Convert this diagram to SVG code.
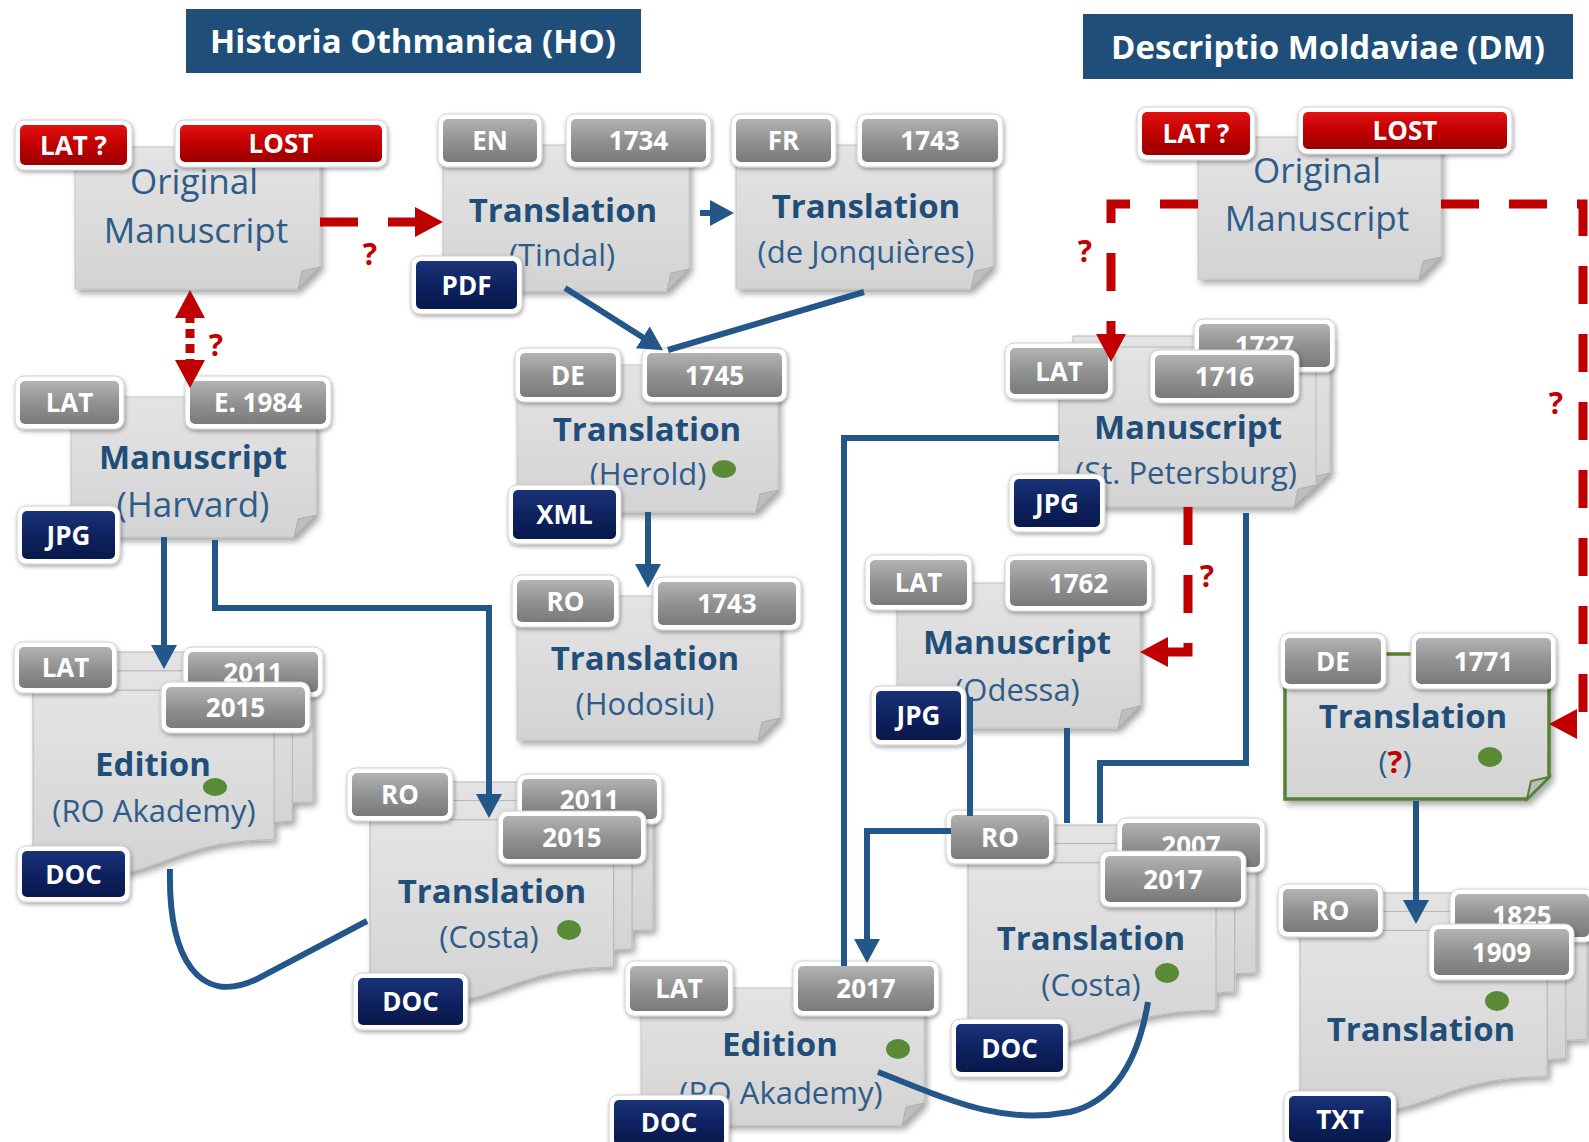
<svg xmlns="http://www.w3.org/2000/svg" width="1589" height="1142" viewBox="0 0 1589 1142">
<defs>
<linearGradient id="gGray" x1="0" y1="0" x2="0" y2="1"><stop offset="0" stop-color="#B3B3B3"/><stop offset="0.5" stop-color="#929292"/><stop offset="1" stop-color="#7A7A7A"/></linearGradient>
<linearGradient id="gRed" x1="0" y1="0" x2="0" y2="1"><stop offset="0" stop-color="#E31212"/><stop offset="0.5" stop-color="#C00000"/><stop offset="1" stop-color="#9C0000"/></linearGradient>
<linearGradient id="gNavy" x1="0" y1="0" x2="0" y2="1"><stop offset="0" stop-color="#1A3378"/><stop offset="0.5" stop-color="#0E2260"/><stop offset="1" stop-color="#08184A"/></linearGradient>
<linearGradient id="gBody" x1="0" y1="0" x2="0" y2="1"><stop offset="0" stop-color="#E4E4E4"/><stop offset="1" stop-color="#D3D3D3"/></linearGradient>
<filter id="bsh" x="-10%" y="-10%" width="125%" height="130%"><feDropShadow dx="3" dy="4" stdDeviation="3" flood-color="#000" flood-opacity="0.35"/></filter>
<filter id="tsh" x="-15%" y="-20%" width="135%" height="150%"><feDropShadow dx="1" dy="2" stdDeviation="2" flood-color="#000" flood-opacity="0.35"/></filter>
<marker id="ab" markerUnits="userSpaceOnUse" markerWidth="26" markerHeight="26" refX="18" refY="13" orient="auto"><path d="M0,0 L24,13 L0,26 Z" fill="#23578A"/></marker>
<marker id="ar" markerUnits="userSpaceOnUse" markerWidth="30" markerHeight="30" refX="19" refY="15" orient="auto-start-reverse"><path d="M0,0 L28,15 L0,30 Z" fill="#C00000"/></marker>
</defs>
<style>
.body{fill:url(#gBody);stroke:#C4C4C4;stroke-width:1;filter:url(#bsh)}
.page{fill:url(#gBody);stroke:#B8B8B8;stroke-width:1}
.flap{fill:#BDBDBD;stroke:#A8A8A8;stroke-width:0.8}
.halo{fill:#FFFFFF;stroke:#D0D0D0;stroke-width:1;filter:url(#tsh)}
.gray .fill{fill:url(#gGray)}
.red .fill{fill:url(#gRed)}
.navy .fill{fill:url(#gNavy)}
.tag text{font-family:"Open Sans",sans-serif;font-weight:bold;font-size:26px;fill:#FFFFFF;text-anchor:middle}
.tb{font-family:"Open Sans",sans-serif;font-weight:bold;font-size:33px;fill:#1F4E79;text-anchor:middle}
.tr{font-family:"Open Sans",sans-serif;font-size:31px;fill:#2E5C8A;text-anchor:middle}
.tl{font-family:"Open Sans",sans-serif;font-size:35px;fill:#2E5C8A;text-anchor:middle}
.dot{fill:#5A8A35}
.title rect{fill:#1F4E79}
.title text{font-family:"Open Sans",sans-serif;font-weight:bold;font-size:33px;fill:#FFFFFF;text-anchor:middle}
.q{font-family:"Open Sans",sans-serif;font-weight:bold;font-size:30px;fill:#C00000;text-anchor:middle}
.bl{fill:none;stroke:#23578A;stroke-width:6}
.rd{fill:none;stroke:#C00000;stroke-width:9;stroke-dasharray:38 30}
</style>
<rect width="1589" height="1142" fill="#FFFFFF"/>

<g id="title-ho" class="title"><rect x="186" y="9" width="455" height="64"/><text x="413" y="53">Historia Othmanica (HO)</text></g>
<g id="title-dm" class="title"><rect x="1083" y="14" width="490" height="65"/><text x="1328" y="59">Descriptio Moldaviae (DM)</text></g>

<g id="ho-original">
<path class="body" d="M75,147 H320 V267 L298,289 H75 Z"/><path class="flap" d="M298,289 L320,267 L302,271 Z"/>
<text class="tl" x="194" y="194">Original</text><text class="tl" x="196" y="243">Manuscript</text>
<g class="tag red"><rect class="halo" x="15" y="120" width="117" height="50" rx="9"/><rect class="fill" x="20" y="125" width="107" height="40" rx="5"/><text x="73.5" y="154.5">LAT ?</text></g>
<g class="tag red"><rect class="halo" x="175" y="120" width="212" height="47" rx="9"/><rect class="fill" x="180" y="125" width="202" height="37" rx="5"/><text x="281" y="153">LOST</text></g>
</g>

<g id="ho-tindal">
<path class="body" d="M443,145 H689 V269 L667,291 H443 Z"/><path class="flap" d="M667,291 L689,269 L671,273 Z"/>
<text class="tb" x="563" y="222">Translation</text><text class="tr" x="562" y="266">(Tindal)</text>
<g class="tag gray"><rect class="halo" x="438" y="114" width="104" height="53" rx="9"/><rect class="fill" x="443" y="119" width="94" height="43" rx="5"/><text x="490" y="150">EN</text></g>
<g class="tag gray"><rect class="halo" x="566" y="114" width="145" height="53" rx="9"/><rect class="fill" x="571" y="119" width="135" height="43" rx="5"/><text x="638.5" y="150">1734</text></g>
<g class="tag navy"><rect class="halo" x="411" y="256" width="111" height="58" rx="9"/><rect class="fill" x="416" y="261" width="101" height="48" rx="5"/><text x="466.5" y="294.5">PDF</text></g>
</g>

<g id="ho-jonquieres">
<path class="body" d="M736,145 H993 V267 L971,289 H736 Z"/><path class="flap" d="M971,289 L993,267 L975,271 Z"/>
<text class="tb" x="866" y="218">Translation</text><text class="tr" x="866" y="263">(de Jonquières)</text>
<g class="tag gray"><rect class="halo" x="731" y="114" width="105" height="53" rx="9"/><rect class="fill" x="736" y="119" width="95" height="43" rx="5"/><text x="783.5" y="150">FR</text></g>
<g class="tag gray"><rect class="halo" x="857" y="114" width="146" height="53" rx="9"/><rect class="fill" x="862" y="119" width="136" height="43" rx="5"/><text x="930" y="150">1743</text></g>
</g>

<g id="ho-harvard">
<path class="body" d="M71,397 H316 V515 L294,537 H71 Z"/><path class="flap" d="M294,537 L316,515 L298,519 Z"/>
<text class="tb" x="193" y="469">Manuscript</text><text class="tl" x="193" y="517">(Harvard)</text>
<g class="tag gray"><rect class="halo" x="15" y="376" width="109" height="53" rx="9"/><rect class="fill" x="20" y="381" width="99" height="43" rx="5"/><text x="69.5" y="412">LAT</text></g>
<g class="tag gray"><rect class="halo" x="185" y="376" width="146" height="53" rx="9"/><rect class="fill" x="190" y="381" width="136" height="43" rx="5"/><text x="258" y="412">E. 1984</text></g>
<g class="tag navy"><rect class="halo" x="17" y="506" width="103" height="58" rx="9"/><rect class="fill" x="22" y="511" width="93" height="48" rx="5"/><text x="68.5" y="544.5">JPG</text></g>
</g>

<g id="ho-herold">
<path class="body" d="M517,365 H778 V490 L756,512 H517 Z"/><path class="flap" d="M756,512 L778,490 L760,494 Z"/>
<text class="tb" x="647" y="441">Translation</text><text class="tr" x="648" y="485">(Herold)</text>
<ellipse class="dot" cx="724" cy="469" rx="12" ry="9"/>
<g class="tag gray"><rect class="halo" x="515" y="348" width="106" height="54" rx="9"/><rect class="fill" x="520" y="353" width="96" height="44" rx="5"/><text x="568" y="384.5">DE</text></g>
<g class="tag gray"><rect class="halo" x="642" y="348" width="145" height="54" rx="9"/><rect class="fill" x="647" y="353" width="135" height="44" rx="5"/><text x="714.5" y="384.5">1745</text></g>
<g class="tag navy"><rect class="halo" x="508" y="485" width="113" height="59" rx="9"/><rect class="fill" x="513" y="490" width="103" height="49" rx="5"/><text x="564.5" y="524">XML</text></g>
</g>

<g id="ho-hodosiu">
<path class="body" d="M517,596 H780 V718 L758,740 H517 Z"/><path class="flap" d="M758,740 L780,718 L762,722 Z"/>
<text class="tb" x="645" y="670">Translation</text><text class="tr" x="645" y="715">(Hodosiu)</text>
<g class="tag gray"><rect class="halo" x="512" y="575" width="107" height="52" rx="9"/><rect class="fill" x="517" y="580" width="97" height="42" rx="5"/><text x="565.5" y="610.5">RO</text></g>
<g class="tag gray"><rect class="halo" x="653" y="577" width="148" height="53" rx="9"/><rect class="fill" x="658" y="582" width="138" height="43" rx="5"/><text x="727" y="613">1743</text></g>
</g>

<g id="ho-edition">
<g filter="url(#bsh)">
<path class="page" d="M71.5,670.9 L71.5,652 L313,652 L313,801.9 C302.6,801.9 292.3,802.7 292.3,802.7 L292.3,670.9 Z"/>
<path class="page" d="M52.9,690.3 L52.9,670.9 L292.3,670.9 L292.3,821.3 C282.7,821.3 274,822.3 274,822.3 L274,690.3 Z"/>
<path class="page" d="M33,868.5 C153.5,897.2 153.5,839.7 274,839.7 L274,690.3 L33,690.3 Z"/>
</g>
<text class="tb" x="153" y="776">Edition</text><text class="tr" x="154" y="822">(RO Akademy)</text>
<ellipse class="dot" cx="215" cy="787" rx="12" ry="9"/>
<g class="tag gray"><rect class="halo" x="14" y="642" width="103" height="51" rx="9"/><rect class="fill" x="19" y="647" width="93" height="41" rx="5"/><text x="65.5" y="677">LAT</text></g>
<g class="tag gray"><rect class="halo" x="183" y="647" width="140" height="50" rx="9"/><rect class="fill" x="188" y="652" width="130" height="40" rx="5"/><text x="253" y="681.5">2011</text></g>
<g class="tag gray"><rect class="halo" x="161" y="682" width="149" height="51" rx="9"/><rect class="fill" x="166" y="687" width="139" height="41" rx="5"/><text x="235.5" y="717">2015</text></g>
<g class="tag navy"><rect class="halo" x="17" y="846" width="113" height="56" rx="9"/><rect class="fill" x="22" y="851" width="103" height="46" rx="5"/><text x="73.5" y="883.5">DOC</text></g>
</g>

<g id="ho-costa">
<g filter="url(#bsh)">
<path class="page" d="M408.9,800.6 L408.9,782 L653,782 L653,929.9 C642.5,929.9 632,930.7 632,930.7 L632,800.6 Z"/>
<path class="page" d="M390.1,819.8 L390.1,800.6 L632,800.6 L632,949 C623,949 613.6,950 613.6,950 L613.6,819.8 Z"/>
<path class="page" d="M370,995.6 C491.8,1024 491.8,967.2 613.6,967.2 L613.6,819.8 L370,819.8 Z"/>
</g>
<text class="tb" x="492" y="903">Translation</text><text class="tr" x="489" y="948">(Costa)</text>
<ellipse class="dot" cx="569" cy="930" rx="12" ry="10"/>
<g class="tag gray"><rect class="halo" x="347" y="768" width="106" height="53" rx="9"/><rect class="fill" x="352" y="773" width="96" height="43" rx="5"/><text x="400" y="804">RO</text></g>
<g class="tag gray"><rect class="halo" x="517" y="774" width="145" height="50" rx="9"/><rect class="fill" x="522" y="779" width="135" height="40" rx="5"/><text x="589.5" y="808.5">2011</text></g>
<g class="tag gray"><rect class="halo" x="498" y="811" width="148" height="53" rx="9"/><rect class="fill" x="503" y="816" width="138" height="43" rx="5"/><text x="572" y="847">2015</text></g>
<g class="tag navy"><rect class="halo" x="353" y="973" width="115" height="57" rx="9"/><rect class="fill" x="358" y="978" width="105" height="47" rx="5"/><text x="410.5" y="1011">DOC</text></g>
</g>

<g id="dm-original">
<path class="body" d="M1198,137 H1441 V257 L1419,279 H1198 Z"/><path class="flap" d="M1419,279 L1441,257 L1423,261 Z"/>
<text class="tl" x="1317" y="183">Original</text><text class="tl" x="1317" y="231">Manuscript</text>
<g class="tag red"><rect class="halo" x="1137" y="107" width="118" height="53" rx="9"/><rect class="fill" x="1142" y="112" width="108" height="43" rx="5"/><text x="1196" y="143">LAT ?</text></g>
<g class="tag red"><rect class="halo" x="1298" y="107" width="214" height="47" rx="9"/><rect class="fill" x="1303" y="112" width="204" height="37" rx="5"/><text x="1405" y="140">LOST</text></g>
</g>

<g id="dm-stpetersburg">
<g filter="url(#bsh)">
<path class="page" d="M1073,336 H1330 V473 L1308,495 H1073 Z"/><path class="flap" d="M1308,495 L1330,473 L1312,477 Z"/>
<path class="page" d="M1059,347 H1316 V485 L1294,507 H1059 Z"/>
</g>
<path class="flap" d="M1294,507 L1316,485 L1298,489 Z"/>
<text class="tb" x="1188" y="439">Manuscript</text><text class="tr" x="1186" y="484">(St. Petersburg)</text>
<g class="tag gray"><rect class="halo" x="1005" y="343" width="108" height="56" rx="9"/><rect class="fill" x="1010" y="348" width="98" height="46" rx="5"/><text x="1059" y="380.5">LAT</text></g>
<g class="tag gray"><rect class="halo" x="1194" y="319" width="141" height="53" rx="9"/><rect class="fill" x="1199" y="324" width="131" height="43" rx="5"/><text x="1264.5" y="355">1727</text></g>
<g class="tag gray"><rect class="halo" x="1150" y="350" width="149" height="53" rx="9"/><rect class="fill" x="1155" y="355" width="139" height="43" rx="5"/><text x="1224.5" y="386">1716</text></g>
<g class="tag navy"><rect class="halo" x="1009" y="474" width="96" height="58" rx="9"/><rect class="fill" x="1014" y="479" width="86" height="48" rx="5"/><text x="1057" y="512.5">JPG</text></g>
</g>

<g id="dm-odessa">
<path class="body" d="M897,583 H1140 V706 L1118,728 H897 Z"/><path class="flap" d="M1118,728 L1140,706 L1122,710 Z"/>
<text class="tb" x="1017" y="654">Manuscript</text><text class="tr" x="1017" y="701">(Odessa)</text>
<g class="tag gray"><rect class="halo" x="865" y="555" width="107" height="55" rx="9"/><rect class="fill" x="870" y="560" width="97" height="45" rx="5"/><text x="918.5" y="592">LAT</text></g>
<g class="tag gray"><rect class="halo" x="1005" y="555" width="147" height="56" rx="9"/><rect class="fill" x="1010" y="560" width="137" height="46" rx="5"/><text x="1078.5" y="592.5">1762</text></g>
<g class="tag navy"><rect class="halo" x="871" y="686" width="95" height="59" rx="9"/><rect class="fill" x="876" y="691" width="85" height="49" rx="5"/><text x="918.5" y="725">JPG</text></g>
</g>

<g id="dm-costa">
<g filter="url(#bsh)">
<path class="page" d="M1007.6,843.6 L1007.6,825 L1256,825 L1256,972.9 C1245,972.9 1234.7,973.7 1234.7,973.7 L1234.7,843.6 Z"/>
<path class="page" d="M988.4,862.8 L988.4,843.6 L1234.7,843.6 L1234.7,992 C1225,992 1215.9,993 1215.9,993 L1215.9,862.8 Z"/>
<path class="page" d="M968,1038.6 C1092,1067 1092,1010.2 1215.9,1010.2 L1215.9,862.8 L968,862.8 Z"/>
</g>
<text class="tb" x="1091" y="950">Translation</text><text class="tr" x="1091" y="996">(Costa)</text>
<ellipse class="dot" cx="1167" cy="973" rx="12" ry="10"/>
<g class="tag gray"><rect class="halo" x="946" y="810" width="108" height="54" rx="9"/><rect class="fill" x="951" y="815" width="98" height="44" rx="5"/><text x="1000" y="846.5">RO</text></g>
<g class="tag gray"><rect class="halo" x="1117" y="818" width="148" height="54" rx="9"/><rect class="fill" x="1122" y="823" width="138" height="44" rx="5"/><text x="1191" y="854.5">2007</text></g>
<g class="tag gray"><rect class="halo" x="1100" y="851" width="146" height="56" rx="9"/><rect class="fill" x="1105" y="856" width="136" height="46" rx="5"/><text x="1173" y="888.5">2017</text></g>
<g class="tag navy"><rect class="halo" x="951" y="1019" width="117" height="58" rx="9"/><rect class="fill" x="956" y="1024" width="107" height="48" rx="5"/><text x="1009.5" y="1057.5">DOC</text></g>
</g>

<g id="dm-edition">
<path class="body" d="M641,988 H924 V1103 L902,1125 H641 Z"/><path class="flap" d="M902,1125 L924,1103 L906,1107 Z"/>
<text class="tb" x="780" y="1056">Edition</text><text class="tr" x="781" y="1104">(RO Akademy)</text>
<ellipse class="dot" cx="898" cy="1049" rx="12" ry="10"/>
<g class="tag gray"><rect class="halo" x="625" y="961" width="108" height="55" rx="9"/><rect class="fill" x="630" y="966" width="98" height="45" rx="5"/><text x="679" y="998">LAT</text></g>
<g class="tag gray"><rect class="halo" x="793" y="961" width="146" height="55" rx="9"/><rect class="fill" x="798" y="966" width="136" height="45" rx="5"/><text x="866" y="998">2017</text></g>
<g class="tag navy"><rect class="halo" x="609" y="1095" width="120" height="55" rx="9"/><rect class="fill" x="614" y="1100" width="110" height="45" rx="5"/><text x="669" y="1132">DOC</text></g>
</g>

<g id="dm-translation-de">
<path class="body" d="M1285,654 H1549 V777 L1527,799 H1285 Z" style="stroke:#548235;stroke-width:3.5"/><path class="flap" d="M1527,799 L1549,777 L1531,781 Z" style="stroke:#548235;stroke-width:2"/>
<text class="tb" x="1413" y="728">Translation</text><text class="tr" x="1395" y="773">(<tspan fill="#C00000" font-weight="bold">?</tspan>)</text>
<ellipse class="dot" cx="1490" cy="757" rx="12" ry="10"/>
<g class="tag gray"><rect class="halo" x="1280" y="633" width="106" height="56" rx="9"/><rect class="fill" x="1285" y="638" width="96" height="46" rx="5"/><text x="1333" y="670.5">DE</text></g>
<g class="tag gray"><rect class="halo" x="1411" y="633" width="145" height="56" rx="9"/><rect class="fill" x="1416" y="638" width="135" height="46" rx="5"/><text x="1483.5" y="670.5">1771</text></g>
</g>

<g id="dm-translation-ro">
<g filter="url(#bsh)">
<path class="page" d="M1339.5,911.5 L1339.5,893 L1587,893 L1587,1039.6 C1576,1039.6 1565.7,1040.4 1565.7,1040.4 L1565.7,911.5 Z"/>
<path class="page" d="M1320.3,930.4 L1320.3,911.5 L1565.7,911.5 L1565.7,1058.5 C1556,1058.5 1547.1,1059.5 1547.1,1059.5 L1547.1,930.4 Z"/>
<path class="page" d="M1300,1104.7 C1423.6,1132.8 1423.6,1076.6 1547.1,1076.6 L1547.1,930.4 L1300,930.4 Z"/>
</g>
<text class="tb" x="1421" y="1041">Translation</text>
<ellipse class="dot" cx="1497" cy="1001" rx="12" ry="10"/>
<g class="tag gray"><rect class="halo" x="1278" y="884" width="105" height="53" rx="9"/><rect class="fill" x="1283" y="889" width="95" height="43" rx="5"/><text x="1330.5" y="920">RO</text></g>
<g class="tag gray"><rect class="halo" x="1450" y="889" width="144" height="53" rx="9"/><rect class="fill" x="1455" y="894" width="134" height="43" rx="5"/><text x="1522" y="925">1825</text></g>
<g class="tag gray"><rect class="halo" x="1429" y="924" width="145" height="56" rx="9"/><rect class="fill" x="1434" y="929" width="135" height="46" rx="5"/><text x="1501.5" y="961.5">1909</text></g>
<g class="tag navy"><rect class="halo" x="1284" y="1091" width="112" height="56" rx="9"/><rect class="fill" x="1289" y="1096" width="102" height="46" rx="5"/><text x="1340" y="1128.5">TXT</text></g>
</g>

<g id="connectors">
<path class="bl" d="M700,213 H728" marker-end="url(#ab)"/>
<path class="bl" d="M565,288 L658,347" marker-end="url(#ab)"/>
<path class="bl" d="M864,292 L668,350"/>
<path class="bl" d="M648,512 V582" marker-end="url(#ab)"/>
<path class="bl" d="M164,537 V663" marker-end="url(#ab)"/>
<path class="bl" d="M215,540 V608 H489 V812" marker-end="url(#ab)"/>
<path class="bl" d="M170,869 C168,960 200,1005 255,980 L367,921"/>
<path class="bl" d="M1059,438 H844 V966"/>
<path class="bl" d="M951,831 H867 V957" marker-end="url(#ab)"/>
<path class="bl" d="M970,697 V816"/>
<path class="bl" d="M1067,728 V823"/>
<path class="bl" d="M1246,513 V763 H1100 V823"/>
<path class="bl" d="M878,1072 C950,1100 1000,1125 1070,1112 C1120,1100 1140,1050 1148,1002"/>
<path class="bl" d="M1416,801 V918" marker-end="url(#ab)"/>
<path class="rd" d="M320,222 H434" marker-end="url(#ar)"/>
<path class="rd" d="M190,299 V379" style="stroke-dasharray:9 6" marker-start="url(#ar)" marker-end="url(#ar)"/>
<path class="rd" d="M1198,204 H1111 V353" marker-end="url(#ar)"/>
<path class="rd" d="M1441,204 H1583 V724 H1558" marker-end="url(#ar)"/>
<path class="rd" d="M1188,507 V652 H1149" marker-end="url(#ar)"/>
<text class="q" x="370" y="265">?</text>
<text class="q" x="216" y="356">?</text>
<text class="q" x="1085" y="262">?</text>
<text class="q" x="1556" y="414">?</text>
<text class="q" x="1207" y="587">?</text>
</g>
</svg>
